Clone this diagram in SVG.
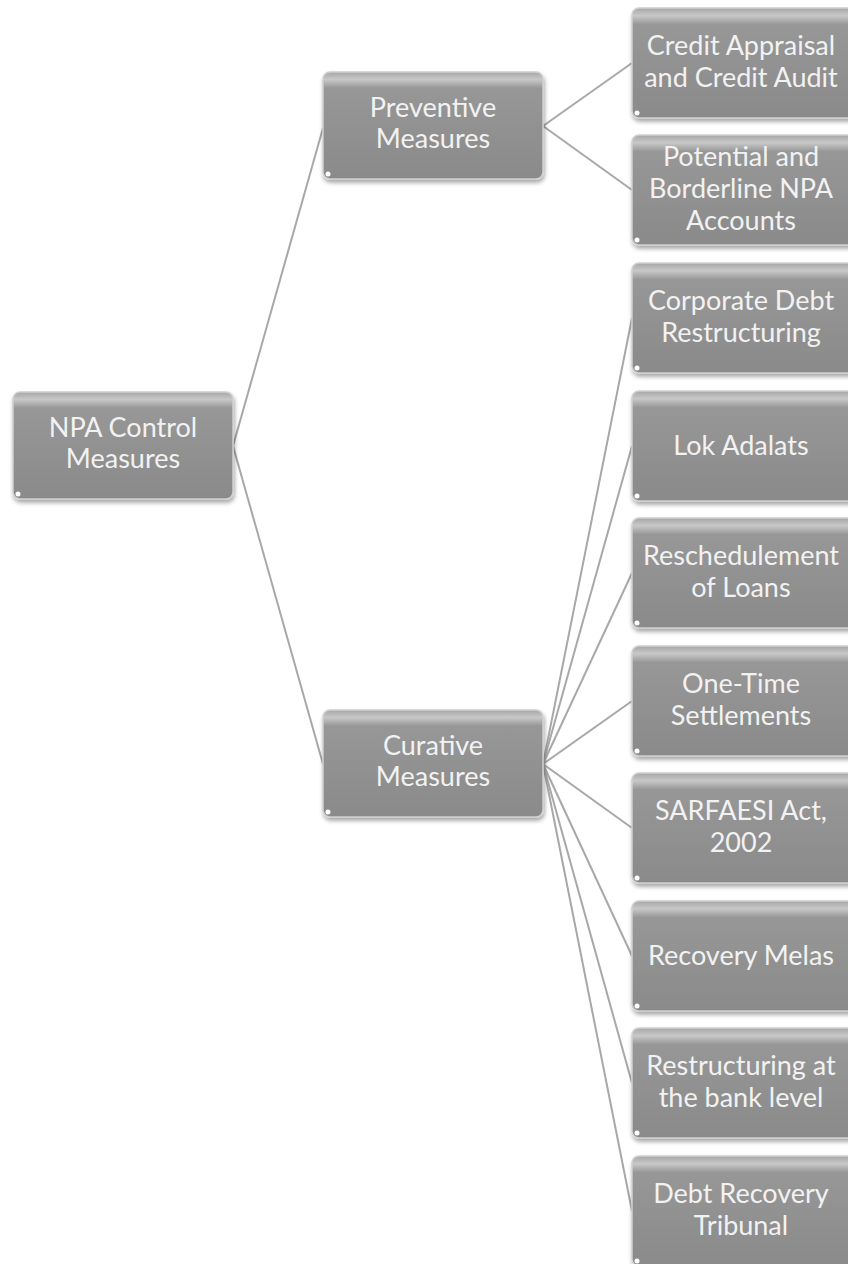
<svg xmlns="http://www.w3.org/2000/svg" width="848" height="1264" viewBox="0 0 848 1264">
<defs>
<linearGradient id="g" x1="0" y1="0" x2="0" y2="1">
<stop offset="0" stop-color="#a6a6a6"/>
<stop offset="0.07" stop-color="#c8c8c8"/>
<stop offset="0.15" stop-color="#979797"/>
<stop offset="1" stop-color="#8a8a8a"/>
</linearGradient>
<filter id="sh" x="-10%" y="-10%" width="120%" height="130%">
<feDropShadow dx="1" dy="3" stdDeviation="2" flood-color="#000" flood-opacity="0.35"/>
</filter>
</defs>
<style>
.box{fill:url(#g);stroke:#d0d0d0;stroke-width:1.5;filter:url(#sh)}
.dot{fill:#ffffff}
.t{font-family:Lato,"Open Sans","Liberation Sans",sans-serif;font-size:27px;fill:#f2f2f2;text-anchor:middle}
.c{stroke:#a8a8a8;stroke-width:2;fill:none}
</style>
<rect width="848" height="1264" fill="#ffffff"/>
<g id="connectors">
<line class="c" x1="233" y1="446" x2="323" y2="128"/>
<line class="c" x1="233" y1="446" x2="323" y2="764"/>
<line class="c" x1="543" y1="126" x2="632" y2="63"/>
<line class="c" x1="543" y1="126" x2="632" y2="190"/>
<line class="c" x1="543" y1="764" x2="632" y2="318"/>
<line class="c" x1="543" y1="764" x2="632" y2="446"/>
<line class="c" x1="543" y1="764" x2="632" y2="573"/>
<line class="c" x1="543" y1="764" x2="632" y2="701"/>
<line class="c" x1="543" y1="764" x2="632" y2="828"/>
<line class="c" x1="543" y1="764" x2="632" y2="956"/>
<line class="c" x1="543" y1="764" x2="632" y2="1083"/>
<line class="c" x1="543" y1="764" x2="632" y2="1211"/>
</g>
<g id="root"><rect class="box" x="13" y="392" width="220" height="107" rx="7"/><circle class="dot" cx="18" cy="494" r="2.5"/>
<text class="t" x="123" y="437">NPA Control</text><text class="t" x="123" y="468">Measures</text></g>
<g id="preventive"><rect class="box" x="323" y="72" width="220" height="107" rx="7"/><circle class="dot" cx="328" cy="174" r="2.5"/>
<text class="t" x="433" y="117">Preventive</text><text class="t" x="433" y="148">Measures</text></g>
<g id="curative"><rect class="box" x="323" y="710" width="220" height="107" rx="7"/><circle class="dot" cx="328" cy="812" r="2.5"/>
<text class="t" x="433" y="755">Curative</text><text class="t" x="433" y="786">Measures</text></g>
<g id="n1"><rect class="box" x="632" y="8" width="230" height="110" rx="7"/><circle class="dot" cx="637" cy="113" r="2.5"/>
<text class="t" x="741" y="55">Credit Appraisal</text><text class="t" x="741" y="87">and Credit Audit</text></g>
<g id="n2"><rect class="box" x="632" y="135" width="230" height="110" rx="7"/><circle class="dot" cx="637" cy="240" r="2.5"/>
<text class="t" x="741" y="166">Potential and</text><text class="t" x="741" y="198">Borderline NPA</text><text class="t" x="741" y="230">Accounts</text></g>
<g id="n3"><rect class="box" x="632" y="263" width="230" height="110" rx="7"/><circle class="dot" cx="637" cy="368" r="2.5"/>
<text class="t" x="741" y="310">Corporate Debt</text><text class="t" x="741" y="342">Restructuring</text></g>
<g id="n4"><rect class="box" x="632" y="391" width="230" height="110" rx="7"/><circle class="dot" cx="637" cy="496" r="2.5"/>
<text class="t" x="741" y="455">Lok Adalats</text></g>
<g id="n5"><rect class="box" x="632" y="518" width="230" height="110" rx="7"/><circle class="dot" cx="637" cy="623" r="2.5"/>
<text class="t" x="741" y="565">Reschedulement</text><text class="t" x="741" y="597">of Loans</text></g>
<g id="n6"><rect class="box" x="632" y="646" width="230" height="110" rx="7"/><circle class="dot" cx="637" cy="751" r="2.5"/>
<text class="t" x="741" y="693">One-Time</text><text class="t" x="741" y="725">Settlements</text></g>
<g id="n7"><rect class="box" x="632" y="773" width="230" height="110" rx="7"/><circle class="dot" cx="637" cy="878" r="2.5"/>
<text class="t" x="741" y="820">SARFAESI Act,</text><text class="t" x="741" y="852">2002</text></g>
<g id="n8"><rect class="box" x="632" y="901" width="230" height="110" rx="7"/><circle class="dot" cx="637" cy="1006" r="2.5"/>
<text class="t" x="741" y="965">Recovery Melas</text></g>
<g id="n9"><rect class="box" x="632" y="1028" width="230" height="110" rx="7"/><circle class="dot" cx="637" cy="1133" r="2.5"/>
<text class="t" x="741" y="1075">Restructuring at</text><text class="t" x="741" y="1107">the bank level</text></g>
<g id="n10"><rect class="box" x="632" y="1156" width="230" height="110" rx="7"/><circle class="dot" cx="637" cy="1261" r="2.5"/>
<text class="t" x="741" y="1203">Debt Recovery</text><text class="t" x="741" y="1235">Tribunal</text></g>
</svg>
